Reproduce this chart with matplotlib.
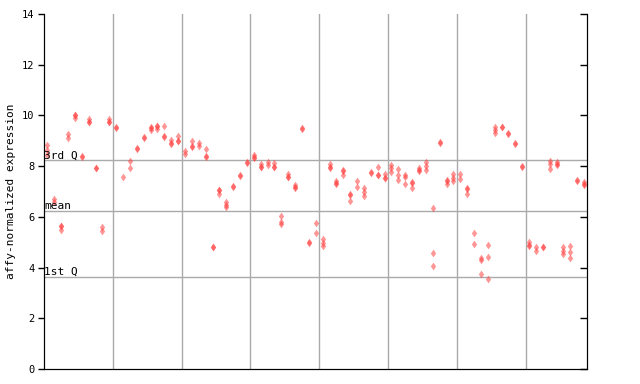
import matplotlib
matplotlib.use("Agg")
import matplotlib.pyplot as plt
from matplotlib.path import Path

# replicate values for each sample, left to right
samples = [
    [8.85, 8.65, 8.45], [6.72, 6.58], [5.65, 5.65, 5.48], [9.25, 9.1],
    [10.02, 10.0, 9.88], [8.4, 8.35], [9.87, 9.75, 9.74], [7.94, 7.94],
    [5.61, 5.44], [9.84, 9.74, 9.74],
    [9.56, 9.5], [7.56], [8.19, 7.91], [8.72, 8.68], [9.16, 9.12],
    [9.56, 9.52, 9.44], [9.6, 9.58, 9.48], [9.58, 9.2, 9.15],
    [9.03, 8.9, 8.88], [9.18, 9.0, 9.0],
    [8.6, 8.46], [8.98, 8.78, 8.76], [8.93, 8.8], [8.66, 8.4, 8.35],
    [4.83, 4.81], [7.06, 7.04, 6.89], [6.58, 6.45, 6.38], [7.2, 7.18],
    [7.66, 7.62], [8.15, 8.12],
    [8.44, 8.36, 8.33], [8.07, 7.98, 7.96], [8.18, 8.04], [8.11, 7.98, 7.96],
    [6.02, 5.78, 5.72], [7.68, 7.58, 7.56], [7.25, 7.16, 7.14], [9.5, 9.46],
    [5.0, 4.96], [5.74, 5.35],
    [5.11, 4.98, 4.85], [8.08, 7.96, 7.92], [7.42, 7.32, 7.3],
    [7.84, 7.8, 7.64], [6.92, 6.88, 6.62], [7.41, 7.19], [7.14, 7.0, 6.84],
    [7.75, 7.73], [7.95, 7.67, 7.65], [7.69, 7.55, 7.52],
    [8.04, 7.91, 7.78], [7.88, 7.64, 7.47], [7.64, 7.58, 7.28],
    [7.36, 7.34, 7.15], [7.93, 7.85, 7.79], [8.15, 8.02, 7.86],
    [6.34, 4.56, 4.06], [8.96, 8.92], [7.44, 7.42, 7.31], [7.69, 7.53, 7.4],
    [7.69, 7.48], [7.12, 7.1, 6.91], [5.35, 4.92], [4.37, 4.29, 3.75],
    [4.88, 4.41, 3.54], [9.55, 9.42, 9.29], [9.56, 9.54], [9.3, 9.28],
    [8.91, 8.89], [8.02, 7.98],
    [5.0, 4.88, 4.84], [4.8, 4.67], [4.83, 4.81], [8.2, 8.1, 7.87],
    [8.16, 8.08, 8.05], [4.8, 4.67, 4.52], [4.85, 4.6, 4.37], [7.47, 7.42],
    [7.37, 7.3, 7.24],
]

# reference lines
q_values = [3.62, 6.22, 8.23]
q_labels = ["1st Q", "mean", "3rd Q"]
y_ticks = [0, 2, 4, 6, 8, 10, 12, 14]

# narrow diamond marker
diamond = Path([(0, 1), (0.7, 0), (0, -1), (-0.7, 0), (0, 1)],
               [Path.MOVETO, Path.LINETO, Path.LINETO, Path.LINETO,
                Path.CLOSEPOLY])

fig = plt.figure(figsize=(6.4, 3.84), dpi=100)
ax = fig.add_axes([0.0692, 0.0391, 0.8478, 0.9244])

# grid lines between groups of ten samples
for gx in range(10, len(samples), 10):
    ax.axvline(gx - 0.5, color="#aaaaaa", lw=1, zorder=1)
for qv, ql in zip(q_values, q_labels):
    ax.axhline(qv, color="#aaaaaa", lw=1, zorder=1)
    ax.text(-0.45, qv, ql, fontsize=8, family="DejaVu Sans Mono",
            va="bottom", ha="left", zorder=3)

for i, vals in enumerate(samples):
    ax.plot([i] * len(vals), vals, linestyle="none", marker=diamond,
            ms=5.5, mfc="#ff4040", mec="none", alpha=0.55, zorder=2)

ax.set_xlim(-0.45, 78.4)
ax.set_ylim(0, 14)
ax.set_yticks(y_ticks)
ax.set_yticklabels([str(t) for t in y_ticks], family="DejaVu Sans Mono",
                   fontsize=7.5)
ax.set_xticks([])
ax.spines["top"].set_visible(False)
ax.tick_params(axis="y", length=4, width=1, direction="out", pad=3)

# right axis with inward ticks
ax2 = ax.twinx()
ax2.set_ylim(0, 14)
ax2.set_yticks(y_ticks)
ax2.set_yticklabels([])
ax2.tick_params(axis="y", length=5, width=1, direction="in")
ax2.spines["top"].set_visible(False)

ax.set_ylabel("affy-normalized expression", family="DejaVu Sans Mono",
              fontsize=8)
ax.yaxis.set_label_coords(-0.052, 0.5)

fig.savefig("out.png", dpi=100)
